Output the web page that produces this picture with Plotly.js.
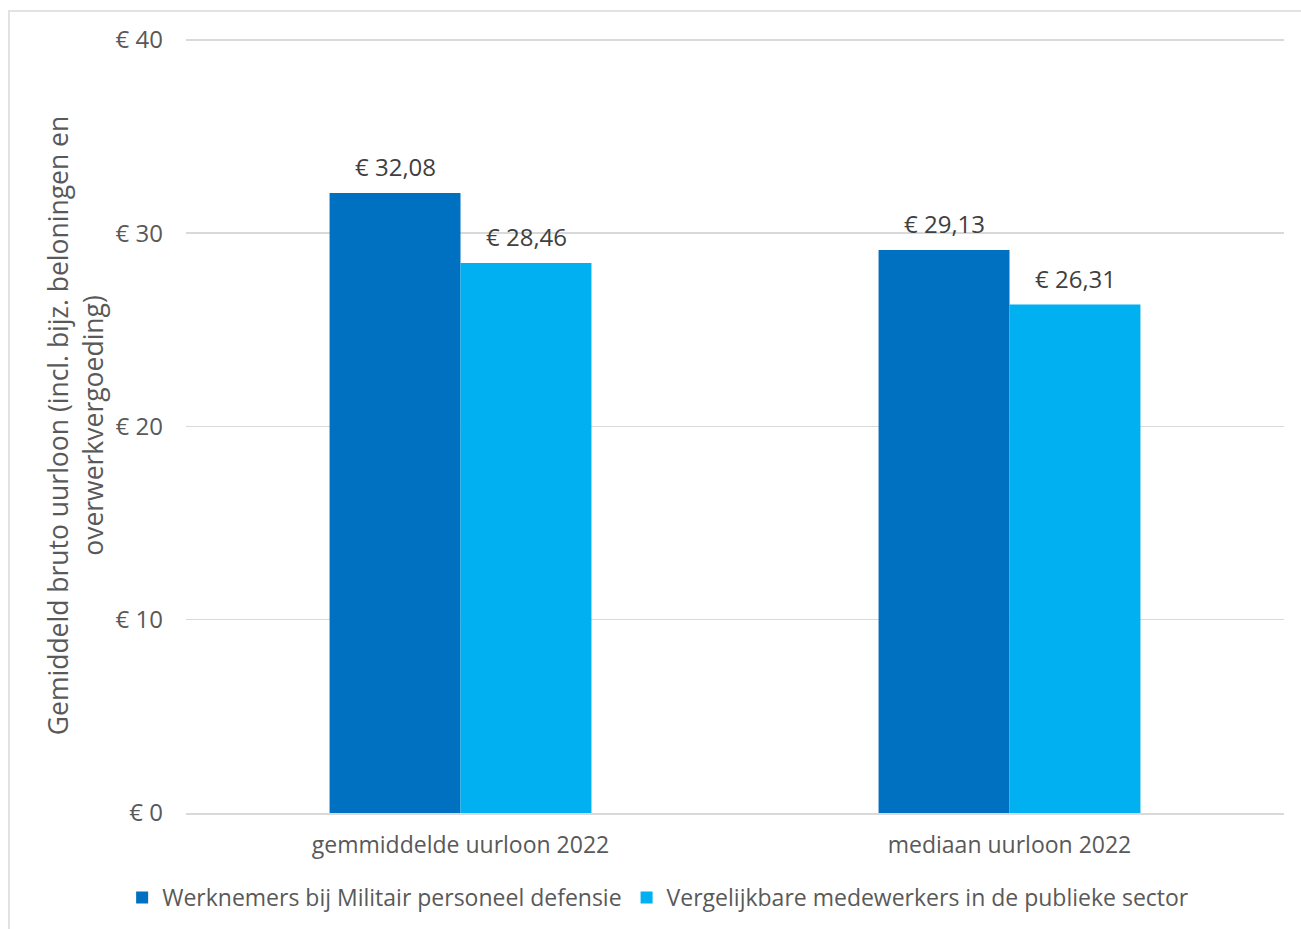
<!DOCTYPE html>
<html>
<head>
<meta charset="utf-8">
<script src="https://cdn.plot.ly/plotly-3.0.1.min.js"></script>
<style>
  html, body { margin: 0; padding: 0; background: #fff; }
  #frame { position: absolute; left: 8px; top: 10px; width: 1293px; height: 919px; border-left: 2px solid #e2e2e2; border-top: 2px solid #e2e2e2; box-sizing: border-box; }
  #chart { position: absolute; left: 0; top: 0; width: 1301px; height: 929px; }
</style>
</head>
<body>
<div id="frame"></div>
<div id="chart"></div>
<script>
const categories = ["gemmiddelde uurloon 2022", "mediaan uurloon 2022"];
const seriesNames = ["Werknemers bij Militair personeel defensie", "Vergelijkbare medewerkers in de publieke sector"];
const militair = [32.08, 29.13];
const publiek = [28.46, 26.31];
const yTitle = "Gemiddeld bruto uurloon (incl. bijz. beloningen en<br>overwerkvergoeding)";

const FONT = "Open Sans, sans-serif";
const labelFont = { family: FONT, size: 24, color: "#404040" };

function barTrace(name, vals, color) {
  return {
    type: "bar",
    name: name,
    x: categories,
    y: vals,
    marker: { color: color, line: { width: 0 } },
    hoverinfo: "skip"
  };
}

const data = [
  barTrace(seriesNames[0], militair, "#0070C0"),
  barTrace(seriesNames[1], publiek, "#00B0F0")
];

const fmt = v => "€ " + v.toFixed(2).replace(".", ",");
const annotations = [];
[[militair, -65.5], [publiek, 65.5]].forEach(([vals, dx]) => {
  vals.forEach((v, i) => {
    annotations.push({
      x: categories[i], y: v, xref: "x", yref: "y",
      text: fmt(v), showarrow: false,
      xshift: dx, yshift: 8, yanchor: "bottom",
      font: labelFont
    });
  });
});

const layout = {
  width: 1301,
  height: 929,
  margin: { l: 186, r: 17, t: 38, b: 116, autoexpand: false },
  paper_bgcolor: "rgba(0,0,0,0)",
  plot_bgcolor: "rgba(0,0,0,0)",
  separators: ",.",
  barmode: "group",
  bargap: 0.523,
  bargroupgap: 0,
  font: { family: FONT, size: 22, color: "#595959" },
  showlegend: true,
  annotations: annotations,
  legend: {
    orientation: "h",
    x: 0.43, xanchor: "center",
    y: -0.109, yanchor: "middle",
    font: { family: FONT, size: 23, color: "#595959" },
    itemwidth: 30,
    traceorder: "normal"
  },
  xaxis: {
    type: "category",
    showline: true,
    linecolor: "#d9d9d9",
    linewidth: 1.5,
    ticks: "",
    tickangle: 0,
    tickfont: { family: FONT, size: 23, color: "#595959" },
    ticklabelstandoff: 11
  },
  yaxis: {
    range: [0, 40.1],
    tick0: 0,
    dtick: 10,
    tickprefix: "€ ",
    showgrid: true,
    gridcolor: "#d9d9d9",
    gridwidth: 1.5,
    zeroline: false,
    ticks: "",
    ticklabelstandoff: 22,
    tickfont: { family: FONT, size: 24, color: "#595959" },
    title: { text: yTitle, font: { family: FONT, size: 26.5, color: "#595959" }, standoff: 4 }
  }
};

Plotly.newPlot("chart", data, layout, { displayModeBar: false, staticPlot: true });
</script>
</body>
</html>
